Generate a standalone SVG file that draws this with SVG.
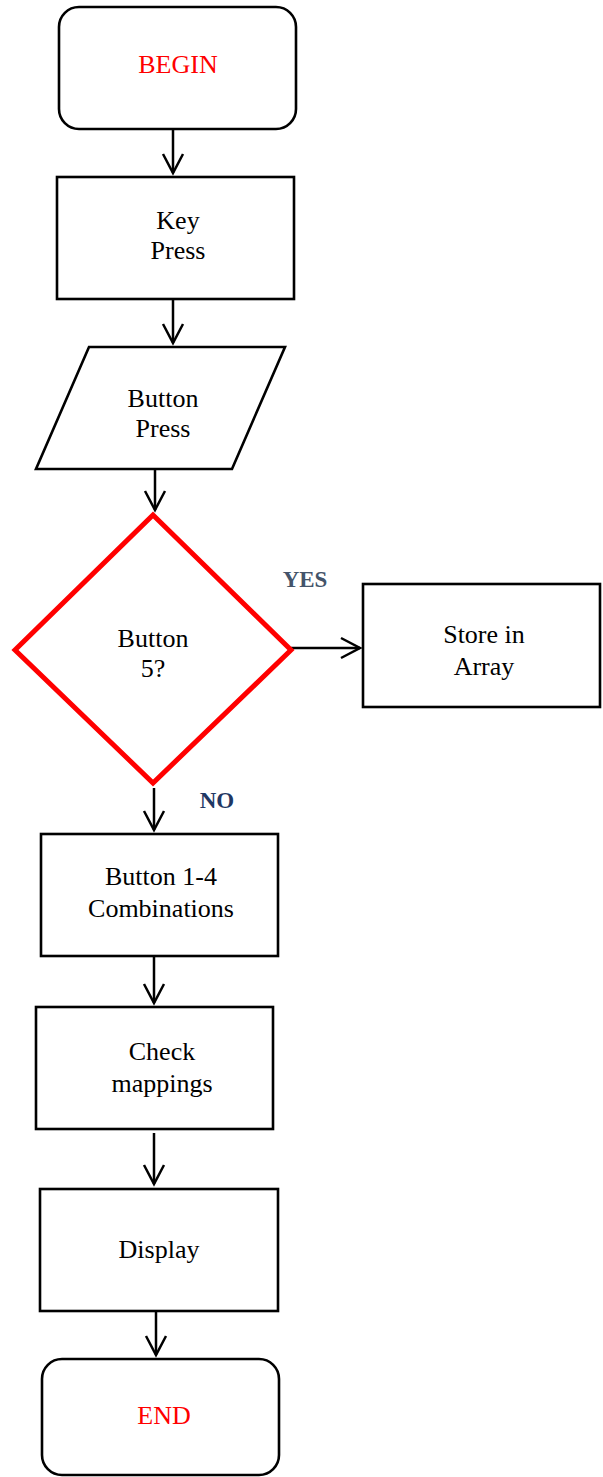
<svg xmlns="http://www.w3.org/2000/svg" width="603" height="1477" viewBox="0 0 603 1477">
<style>
.box{fill:#fff;stroke:#000;stroke-width:2.6}
.dec{fill:#fff;stroke:#ff0000;stroke-width:5}
.t{font-family:"Liberation Serif","Times New Roman",serif;font-size:26px;fill:#000;text-anchor:middle}
.red{fill:#ff0000}
.lbl{font-family:"Liberation Serif","Times New Roman",serif;font-size:23px;font-weight:bold;text-anchor:middle}
.conn{fill:none;stroke:#000;stroke-width:2.5}
</style>
<defs>
<marker id="arr" markerUnits="userSpaceOnUse" orient="auto" overflow="visible" refX="0" refY="0" markerWidth="20" markerHeight="20">
<path d="M-19,-10 L0,0 L-19,10" fill="none" stroke="#000" stroke-width="2.5"/>
</marker>
</defs>
<g id="connectors">
<line class="conn" x1="173" y1="129" x2="173" y2="173" marker-end="url(#arr)"/>
<line class="conn" x1="173" y1="299" x2="173" y2="343" marker-end="url(#arr)"/>
<line class="conn" x1="155" y1="469" x2="155" y2="510" marker-end="url(#arr)"/>
<line class="conn" x1="291" y1="648" x2="360" y2="648" marker-end="url(#arr)"/>
<line class="conn" x1="154" y1="788" x2="154" y2="830" marker-end="url(#arr)"/>
<line class="conn" x1="154" y1="956" x2="154" y2="1003" marker-end="url(#arr)"/>
<line class="conn" x1="154" y1="1133" x2="154" y2="1184" marker-end="url(#arr)"/>
<line class="conn" x1="156" y1="1311" x2="156" y2="1355" marker-end="url(#arr)"/>
<text class="lbl" x="305" y="587" fill="#44546a">YES</text>
<text class="lbl" x="217" y="808" fill="#1f3864">NO</text>
</g>
<g id="begin">
<rect class="box" x="59" y="7" width="237" height="122" rx="20"/>
<text class="t red" x="178" y="73">BEGIN</text>
</g>
<g id="keypress">
<rect class="box" x="57" y="177" width="237" height="122"/>
<text class="t" x="178" y="229">Key</text>
<text class="t" x="178" y="259">Press</text>
</g>
<g id="buttonpress">
<polygon class="box" points="89,347 285,347 232,469 36,469"/>
<text class="t" x="163" y="407">Button</text>
<text class="t" x="163" y="437">Press</text>
</g>
<g id="decision">
<polygon class="dec" points="153,515 291,650 153,783 15,650"/>
<text class="t" x="153" y="647">Button</text>
<text class="t" x="153" y="677">5?</text>
</g>
<g id="store">
<rect class="box" x="363" y="584" width="237" height="123"/>
<text class="t" x="484" y="643">Store in</text>
<text class="t" x="484" y="675">Array</text>
</g>
<g id="combinations">
<rect class="box" x="41" y="834" width="237" height="122"/>
<text class="t" x="161" y="885">Button 1-4</text>
<text class="t" x="161" y="917">Combinations</text>
</g>
<g id="check">
<rect class="box" x="36" y="1007" width="237" height="122"/>
<text class="t" x="162" y="1060">Check</text>
<text class="t" x="162" y="1092">mappings</text>
</g>
<g id="display">
<rect class="box" x="40" y="1189" width="238" height="122"/>
<text class="t" x="159" y="1258">Display</text>
</g>
<g id="end">
<rect class="box" x="42" y="1359" width="237" height="116" rx="20"/>
<text class="t red" x="164" y="1424">END</text>
</g>
</svg>
